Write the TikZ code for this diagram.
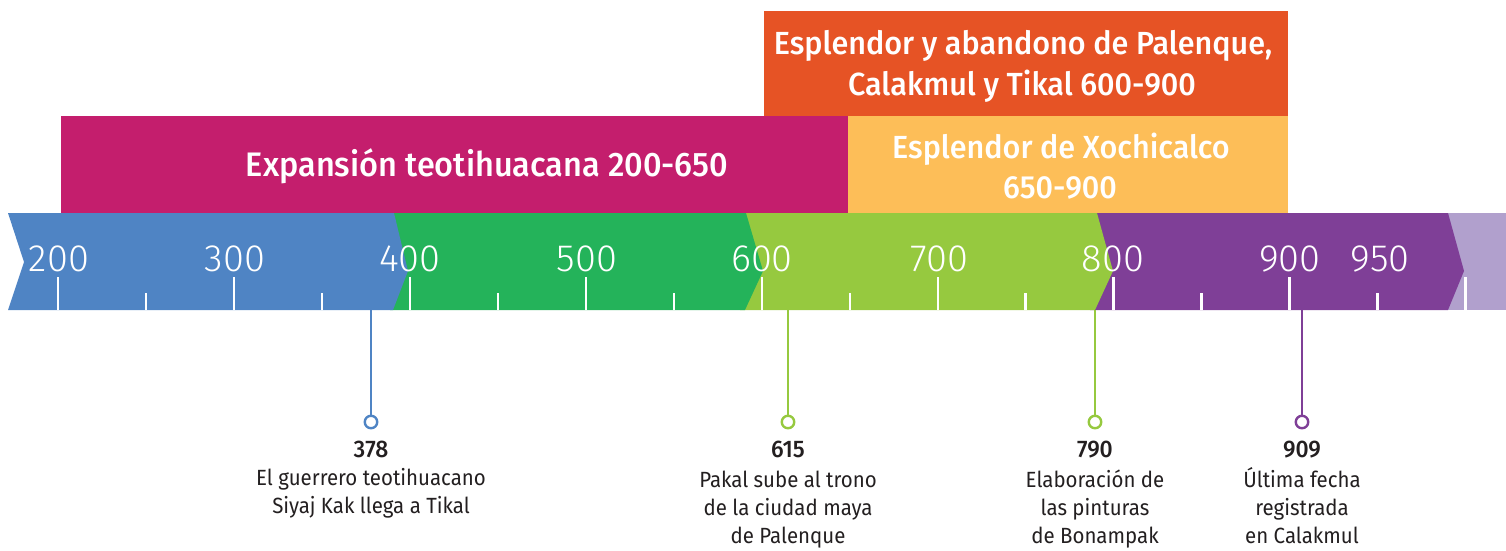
\documentclass[tikz,border=0pt]{standalone}
\usepackage{fontspec}
\setmainfont{Fira Sans}[FakeStretch=0.93]
\newfontfamily\lightf{Fira Sans Light}
\newfontfamily\medf{Fira Sans Medium}[FakeStretch=0.955]
\definecolor{cblue}{HTML}{4F84C4}
\definecolor{cgreen}{HTML}{24B35A}
\definecolor{clgreen}{HTML}{96C93F}
\definecolor{cpurple}{HTML}{7F3F97}
\definecolor{clpurple}{HTML}{B1A0CD}
\definecolor{cmagenta}{HTML}{C41E6D}
\definecolor{corange}{HTML}{E65325}
\definecolor{cyellow}{HTML}{FDBE58}
\definecolor{ctext}{HTML}{231F20}
\tikzset{
  tickline/.style={white, line width=2.4pt},
  axislabel/.style={anchor=base, white, inner sep=0pt, font=\lightf\fontsize{38}{38}\selectfont},
  bartitle/.style={anchor=base, white, inner sep=0pt, font=\medf\fontsize{32}{40}\selectfont},
  bigtitle/.style={anchor=base, white, inner sep=0pt, font=\medf\fontsize{34}{40}\selectfont},
  yearlabel/.style={anchor=base, ctext, inner sep=0pt, font=\medf\fontsize{24}{28}\selectfont},
  eventtext/.style={anchor=base, ctext, inner sep=0pt, font=\fontsize{22}{28}\selectfont},
  marker/.style={circle, draw=#1, fill=white, line width=2.4pt, minimum size=12.5pt, inner sep=0pt},
  stem/.style={draw=#1, line width=2.4pt}
}
\begin{document}
\begin{tikzpicture}[x=1pt,y=-1pt]
\useasboundingbox (0,0) rectangle (1506,551);
% time band
\fill[clpurple] (1440,213) rectangle (1506,310);
\fill[cpurple] (1090,213) -- (1448,213) -- (1464,271) -- (1448,310) -- (1090,310) -- cycle;
\fill[clgreen] (740,213) -- (1097,213) -- (1113,271) -- (1095,310) -- (740,310) -- cycle;
\fill[cgreen] (390,213) -- (746,213) -- (763,271) -- (745,310) -- (390,310) -- cycle;
\fill[cblue] (8,213) -- (394,213) -- (408,271) -- (393,310) -- (8,310) -- (24,262) -- cycle;
% ticks
\foreach \v in {200,300,...,1000} \draw[tickline] ({58+(\v-200)*1.7594},277) -- ({58+(\v-200)*1.7594},310);
\foreach \v in {250,350,...,950} \draw[tickline] ({58+(\v-200)*1.7594},293) -- ({58+(\v-200)*1.7594},310);
% axis labels
\node[axislabel] (a200) at (59,271) {200};
\node[axislabel] (a300) at (235,271) {300};
\node[axislabel] (a400) at (410,271) {400};
\node[axislabel] (a500) at (587,271) {500};
\node[axislabel] (a600) at (762,271) {600};
\node[axislabel] (a700) at (939,271) {700};
\node[axislabel] (a800) at (1113,271) {800};
\node[axislabel] (a900) at (1290,271) {900};
\node[axislabel] (a950) at (1380,271) {950};
% period bars
\fill[cmagenta] (61,116) rectangle (848,213);
\fill[corange] (764,11) rectangle (1288,116);
\fill[cyellow] (848,116) rectangle (1288,213);
\node[bigtitle] (p1) at (487,176) {Expansión teotihuacana 200-650};
\node[bartitle] (p2a) at (1023,55) {Esplendor y abandono de Palenque,};
\node[bartitle] (p2b) at (1022,95) {Calakmul y Tikal 600-900};
\node[bartitle] (p3a) at (1061,158) {Esplendor de Xochicalco};
\node[bartitle] (p3b) at (1060,198) {650-900};
% events
\coordinate (b378) at (371,310);
\coordinate (b615) at (788,310);
\coordinate (b790) at (1095,310);
\coordinate (b909) at (1302,310);
\node[marker=cblue] (m378) at (371,422) {};
\node[marker=clgreen] (m615) at (788,422) {};
\node[marker=clgreen] (m790) at (1095,422) {};
\node[marker=cpurple] (m909) at (1302,422) {};
\draw[stem=cblue] (b378) -- (m378);
\draw[stem=clgreen] (b615) -- (m615);
\draw[stem=clgreen] (b790) -- (m790);
\draw[stem=cpurple] (b909) -- (m909);
\node[yearlabel] (y378) at (371,457) {378};
\node[eventtext] (e378a) at (371,485) {El guerrero teotihuacano};
\node[eventtext] (e378b) at (371,513) {Siyaj Kak llega a Tikal};
\node[yearlabel] (y615) at (788,457) {615};
\node[eventtext] (e615a) at (788,487) {Pakal sube al trono};
\node[eventtext] (e615b) at (788,515) {de la ciudad maya};
\node[eventtext] (e615c) at (788,543) {de Palenque};
\node[yearlabel] (y790) at (1095,457) {790};
\node[eventtext] (e790a) at (1095,487) {Elaboración de};
\node[eventtext] (e790b) at (1095,515) {las pinturas};
\node[eventtext] (e790c) at (1095,543) {de Bonampak};
\node[yearlabel] (y909) at (1302,457) {909};
\node[eventtext] (e909a) at (1302,487) {Última fecha};
\node[eventtext] (e909b) at (1302,515) {registrada};
\node[eventtext] (e909c) at (1302,543) {en Calakmul};
\end{tikzpicture}
\end{document}
